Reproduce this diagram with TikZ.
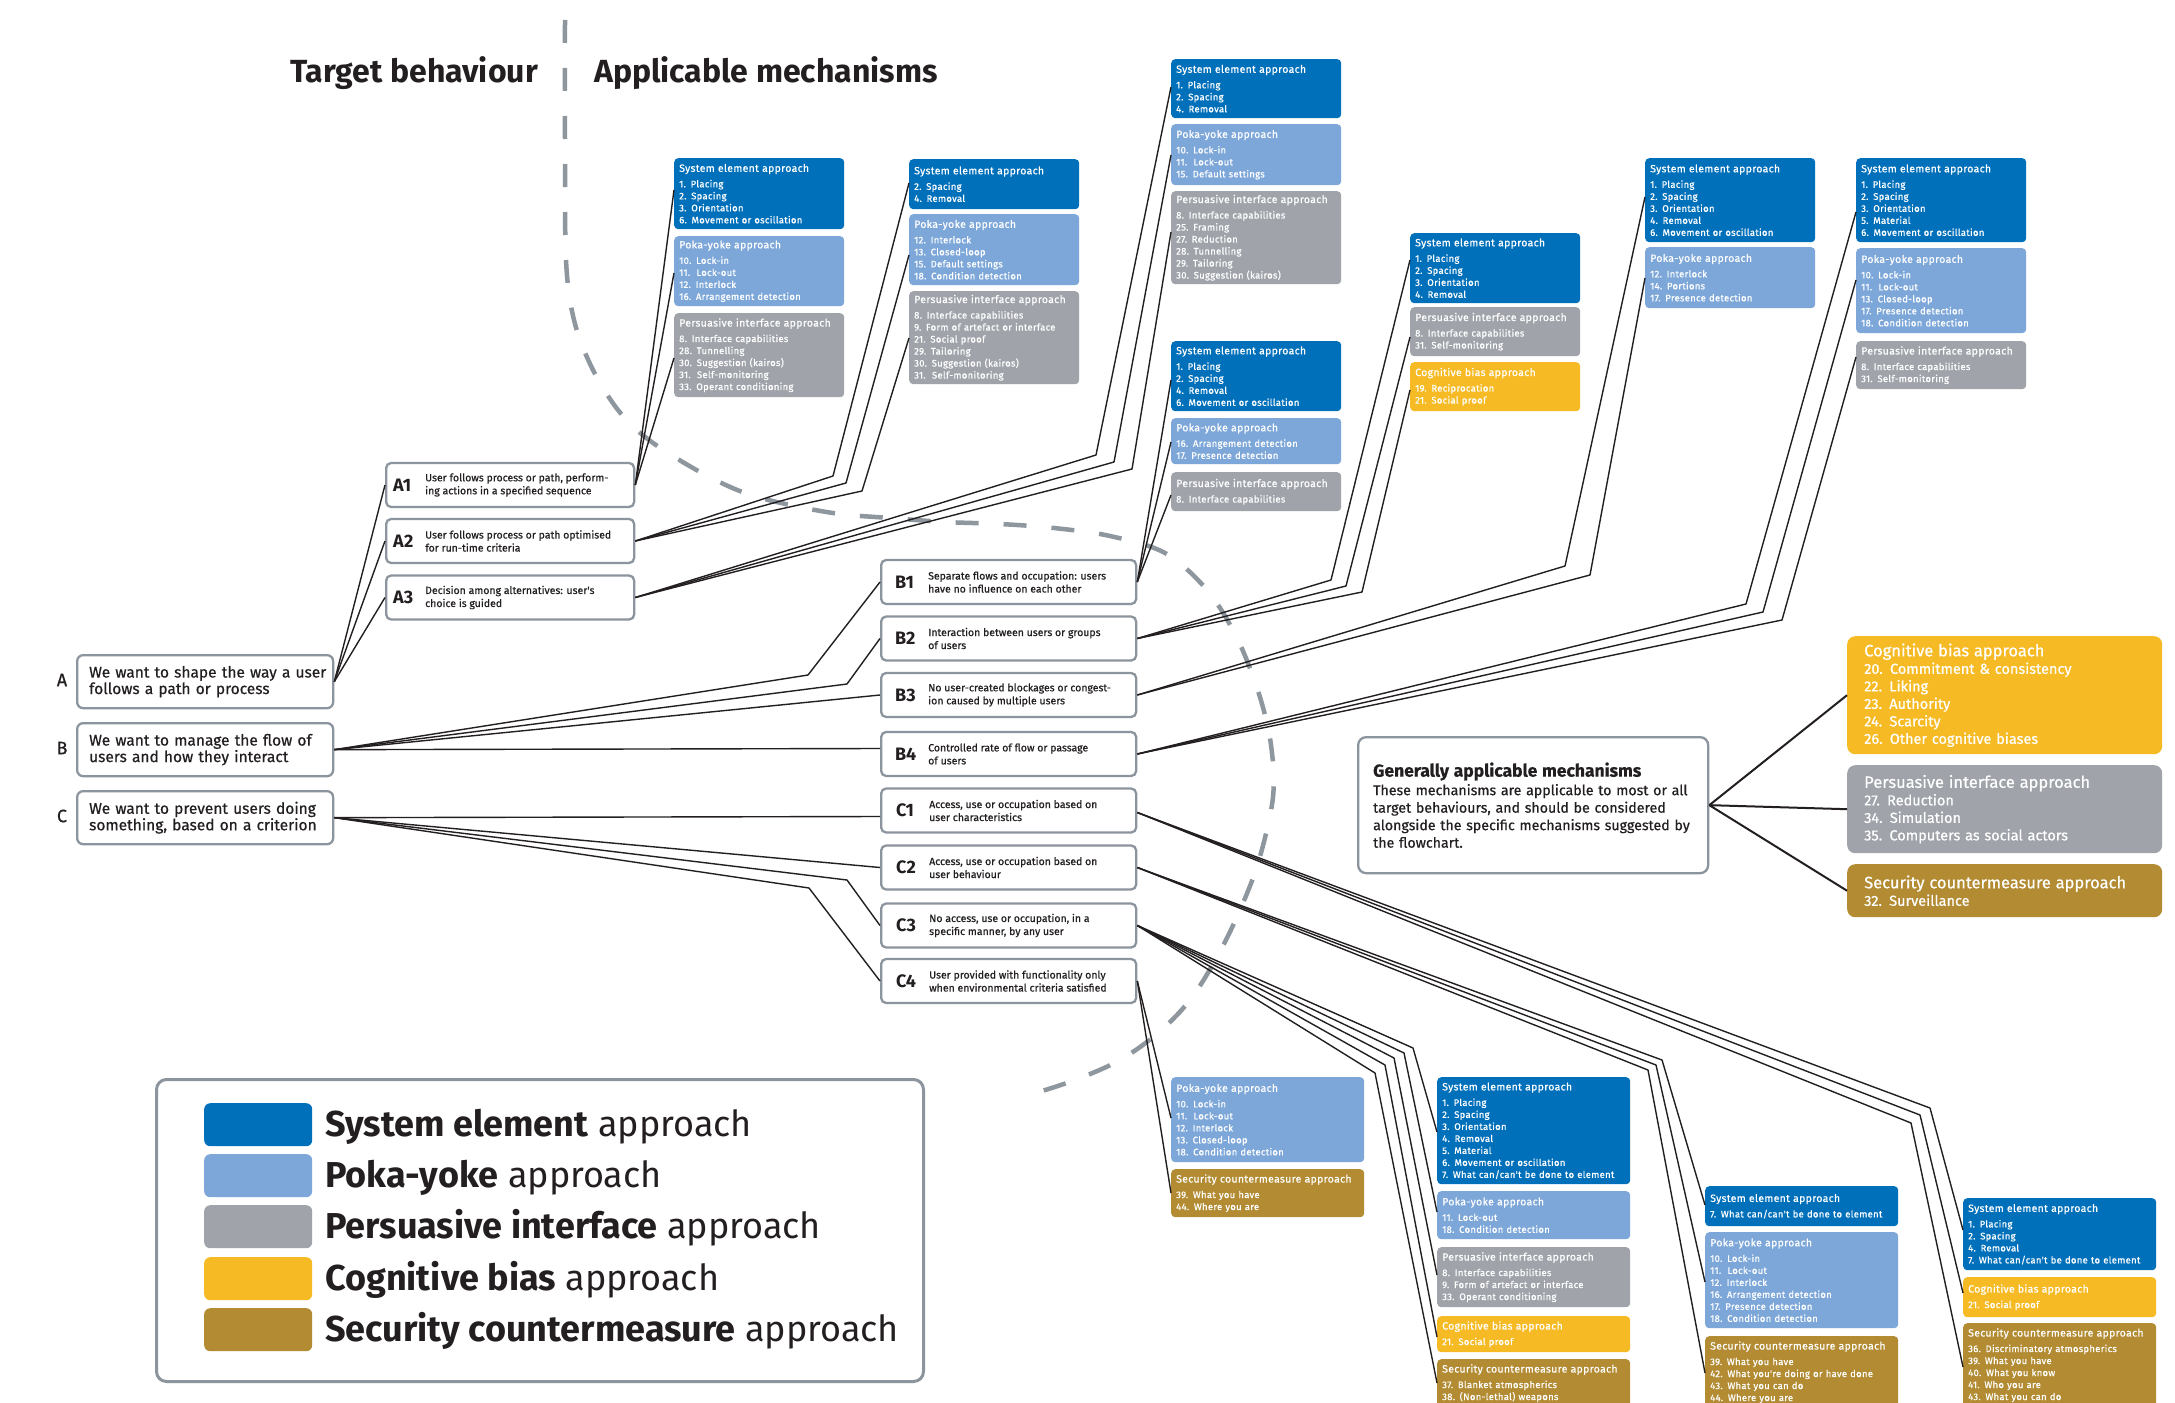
\documentclass[tikz,border=0pt]{standalone}
\usepackage{fontspec}
\setmainfont{Fira Sans}
\newfontfamily\mechfont[LetterSpace=3,FakeBold=0.6]{Fira Sans}
\newfontfamily\medfont[FakeBold=0.6]{Fira Sans}
\definecolor{seblue}{RGB}{0,112,187}
\definecolor{pyblue}{RGB}{125,167,217}
\definecolor{pigrey}{RGB}{160,164,170}
\definecolor{cbyellow}{RGB}{246,187,36}
\definecolor{scgold}{RGB}{178,139,51}
\definecolor{boxgrey}{RGB}{140,149,157}
\definecolor{dashgrey}{RGB}{142,150,158}
\definecolor{ink}{RGB}{35,31,32}
\newcommand{\mhead}[1]{\mbox{\fontsize{10.5}{12}\selectfont #1}\\[3.5pt]}
\newcommand{\rhead}[1]{\mbox{\fontsize{16.5}{17.5}\selectfont #1}\\}
\newcommand{\tbox}[8]{%
  \node[beh, minimum width=#4pt, anchor=west] (#1) at (#2,#3) {};
  \node[blab, anchor=west] (#1l) at ([xshift=#7pt]#1.west) {#5};
  \node[bdesc, anchor=west] (#1d) at ([xshift=#8pt]#1.west) {#6};
}
\tikzset{
  mech/.style={anchor=north west, rounded corners=4pt, text=white, inner xsep=5pt, inner ysep=1pt,
    align=left, text width=160pt, font=\mechfont\fontsize{9.5}{12}\selectfont},
  mwide/.style={text width=183pt},
  mse/.style={mech, fill=seblue},
  mpy/.style={mech, fill=pyblue},
  mpi/.style={mech, fill=pigrey},
  mcb/.style={mech, fill=cbyellow},
  msc/.style={mech, fill=scgold},
  beh/.style={draw=boxgrey, line width=2.3pt, rounded corners=5pt, fill=white, minimum height=44pt, inner sep=0pt},
  blab/.style={font=\fontsize{18}{20}\selectfont\bfseries, text=ink, inner sep=0pt},
  bdesc/.style={font=\medfont\fontsize{10.5}{13}\selectfont, text=ink, align=left, inner sep=0pt},
  bigbeh/.style={anchor=north west, draw=boxgrey, line width=2.3pt, rounded corners=6pt, fill=white,
    minimum width=256pt, minimum height=53pt, text width=232pt, inner xsep=12pt, inner ysep=0pt,
    align=left, text=ink, font=\medfont\fontsize{15.5}{16.5}\selectfont},
  rbox/.style={anchor=north west, rounded corners=8pt, text=white, inner xsep=17pt, inner ysep=1pt,
    align=left, text width=281pt, font=\medfont\fontsize{14.5}{17.5}\selectfont},
  conn/.style={draw=ink, line width=1.4pt, line join=round},
  gconn/.style={draw=ink, line width=2pt},
  dashline/.style={draw=dashgrey, line width=4.5pt, dash pattern=on 23pt off 25pt},
  swatch/.style={anchor=north west, rounded corners=6pt, minimum width=108pt, minimum height=43pt, inner sep=0pt},
  legtext/.style={anchor=base west, inner sep=0pt, text=ink, font=\fontsize{36}{40}\selectfont},
  letter/.style={text=ink, font=\medfont\fontsize{18}{20}\selectfont, inner sep=0pt}
}
\begin{document}
\begin{tikzpicture}[x=1pt, y=-1pt]
\useasboundingbox (0,0) rectangle (2175,1402);
\clip (0,0) rectangle (2175,1402);
\fill[white] (0,0) rectangle (2175,1402);

% dividing dashed line
\draw[dashline] plot[smooth, tension=0.55] coordinates {(565,20) (565,140) (566,260) (574,320) (592,368) (618,410) (649,440) (700,472) (745,493) (790,505) (840,514) (890,518) (945,522) (1000,524) (1054,528) (1110,536) (1165,553) (1207,590) (1237,638) (1259,694) (1271,745) (1273,797) (1259,860) (1240,910) (1217,957) (1190,1000) (1158,1033) (1120,1060) (1075,1080) (1026,1096)};

% titles
\node[anchor=base east, inner sep=0pt, text=ink, font=\fontsize{32}{36}\selectfont\bfseries] (ttarget) at (538,83) {Target behaviour};
\node[anchor=base west, inner sep=0pt, text=ink, font=\fontsize{32}{36}\selectfont\bfseries] (tmech) at (594,83) {Applicable mechanisms};

% top-level behaviours
\node[bigbeh] (A) at (76,654) {\mbox{We want to shape the way a user}\\\mbox{follows a path or process}};
\node[bigbeh] (B) at (76,722) {\mbox{We want to manage the flow of}\\\mbox{users and how they interact}};
\node[bigbeh] (C) at (76,790) {\mbox{We want to prevent users doing}\\\mbox{something, based on a criterion}};
\node[letter] (lA) at (62,680) {A};
\node[letter] (lB) at (62,748) {B};
\node[letter] (lC) at (62,816) {C};

% sub-behaviours
\tbox{a1}{385}{485}{248}{A1}{User follows process or path, perform-\\ing actions in a specified sequence}{8}{40}
\tbox{a2}{385}{541}{248}{A2}{User follows process or path optimised\\for run-time criteria}{8}{40}
\tbox{a3}{385}{597.5}{248}{A3}{Decision among alternatives: user's\\choice is guided}{8}{40}
\tbox{b1}{880}{582}{255}{B1}{Separate flows and occupation: users\\have no influence on each other}{15}{48}
\tbox{b2}{880}{638.5}{255}{B2}{Interaction between users or groups\\of users}{15}{48}
\tbox{b3}{880}{695}{255}{B3}{No user-created blockages or congest-\\ion caused by multiple users}{15}{48}
\tbox{b4}{880}{754}{255}{B4}{Controlled rate of flow or passage\\of users}{15}{48}
\tbox{c1}{880}{810.5}{255}{C1}{Access, use or occupation based on\\user characteristics}{16}{49}
\tbox{c2}{880}{867.5}{255}{C2}{Access, use or occupation based on\\user behaviour}{16}{49}
\tbox{c3}{880}{925.5}{255}{C3}{No access, use or occupation, in a\\specific manner, by any user}{16}{49}
\tbox{c4}{880}{981}{255}{C4}{User provided with functionality only\\when environmental criteria satisfied}{16}{49}

% A1 mechanisms
\node[mse, minimum height=71pt] (a1se) at (674,158) {\mhead{System element approach}1. Placing\\2. Spacing\\3. Orientation\\6. Movement or oscillation};
\node[mpy, minimum height=70pt] (a1py) at (674,236) {\mhead{Poka-yoke approach}10. Lock-in\\11.\ \ Lock-out\\12. Interlock\\16. Arrangement detection};
\node[mpi, minimum height=84pt] (a1pi) at (674,313) {\mhead{Persuasive interface approach}8. Interface capabilities\\28. Tunnelling\\30. Suggestion (kairos)\\31.\ \ Self-monitoring\\33. Operant conditioning};
% A2 mechanisms
\node[mse, minimum height=50pt] (a2se) at (909,159) {\mhead{System element approach}2. Spacing\\4. Removal};
\node[mpy, minimum height=71pt] (a2py) at (909,214) {\mhead{Poka-yoke approach}12. Interlock\\13. Closed-loop\\15. Default settings\\18. Condition detection};
\node[mpi, minimum height=93pt] (a2pi) at (909,291) {\mhead{Persuasive interface approach}8. Interface capabilities\\9. Form of artefact or interface\\21. Social proof\\29. Tailoring\\30. Suggestion (kairos)\\31.\ \ Self-monitoring};
% A3 mechanisms
\node[mse, minimum height=59pt] (a3se) at (1171,59) {\mhead{System element approach}1. Placing\\2. Spacing\\4. Removal};
\node[mpy, minimum height=61pt] (a3py) at (1171,124) {\mhead{Poka-yoke approach}10. Lock-in\\11.\ \ Lock-out\\15. Default settings};
\node[mpi, minimum height=93pt] (a3pi) at (1171,191) {\mhead{Persuasive interface approach}8. Interface capabilities\\25. Framing\\27. Reduction\\28. Tunnelling\\29. Tailoring\\30. Suggestion (kairos)};
% B1 mechanisms
\node[mse, minimum height=70pt] (b1se) at (1171,341) {\mhead{System element approach}1. Placing\\2. Spacing\\4. Removal\\6. Movement or oscillation};
\node[mpy, minimum height=46pt] (b1py) at (1171,418) {\mhead{Poka-yoke approach}16. Arrangement detection\\17. Presence detection};
\node[mpi, minimum height=39pt] (b1pi) at (1171,472) {\mhead{Persuasive interface approach}8. Interface capabilities};
% B2 mechanisms
\node[mse, minimum height=70pt] (b2se) at (1410,233) {\mhead{System element approach}1. Placing\\2. Spacing\\3. Orientation\\4. Removal};
\node[mpi, minimum height=49pt] (b2pi) at (1410,307) {\mhead{Persuasive interface approach}8. Interface capabilities\\31. Self-monitoring};
\node[mcb, minimum height=49pt] (b2cb) at (1410,362) {\mhead{Cognitive bias approach}19. Reciprocation\\21. Social proof};
% B3 mechanisms
\node[mse, minimum height=84pt] (b3se) at (1645,158) {\mhead{System element approach}1. Placing\\2. Spacing\\3. Orientation\\4. Removal\\6. Movement or oscillation};
\node[mpy, minimum height=61pt] (b3py) at (1645,247) {\mhead{Poka-yoke approach}12. Interlock\\14. Portions\\17. Presence detection};
% B4 mechanisms
\node[mse, minimum height=84pt] (b4se) at (1856,158) {\mhead{System element approach}1. Placing\\2. Spacing\\3. Orientation\\5. Material\\6. Movement or oscillation};
\node[mpy, minimum height=85pt] (b4py) at (1856,248) {\mhead{Poka-yoke approach}10. Lock-in\\11.\ \ Lock-out\\13. Closed-loop\\17. Presence detection\\18. Condition detection};
\node[mpi, minimum height=48pt] (b4pi) at (1856,341) {\mhead{Persuasive interface approach}8. Interface capabilities\\31. Self-monitoring};
% C4 mechanisms
\node[mpy, mwide, minimum height=85pt] (c4py) at (1171,1077) {\mhead{Poka-yoke approach}10. Lock-in\\11.\ \ Lock-out\\12. Interlock\\13. Closed-loop\\18. Condition detection};
\node[msc, mwide, minimum height=48pt] (c4sc) at (1171,1169) {\mhead{Security countermeasure approach}39. What you have\\44. Where you are};
% C3 mechanisms
\node[mse, mwide, minimum height=107pt] (c3se) at (1437,1077) {\mhead{System element approach}1. Placing\\2. Spacing\\3. Orientation\\4. Removal\\5. Material\\6. Movement or oscillation\\7. What can/can't be done to element};
\node[mpy, mwide, minimum height=48pt] (c3py) at (1437,1191) {\mhead{Poka-yoke approach}11. Lock-out\\18. Condition detection};
\node[mpi, mwide, minimum height=60pt] (c3pi) at (1437,1247) {\mhead{Persuasive interface approach}8. Interface capabilities\\9. Form of artefact or interface\\33. Operant conditioning};
\node[mcb, mwide, minimum height=36pt] (c3cb) at (1437,1316) {\mhead{Cognitive bias approach}21. Social proof};
\node[msc, mwide, minimum height=48pt] (c3sc) at (1437,1359) {\mhead{Security countermeasure approach}37. Blanket atmospherics\\38. (Non-lethal) weapons};
% C2 mechanisms
\node[mse, mwide, minimum height=40pt] (c2se) at (1705,1186) {\mhead{System element approach}7. What can/can't be done to element};
\node[mpy, mwide, minimum height=96pt] (c2py) at (1705,1232) {\mhead{Poka-yoke approach}10. Lock-in\\11.\ \ Lock-out\\12. Interlock\\16. Arrangement detection\\17. Presence detection\\18. Condition detection};
\node[msc, mwide, minimum height=72pt] (c2sc) at (1705,1336) {\mhead{Security countermeasure approach}39. What you have\\42. What you're doing or have done\\43. What you can do\\44. Where you are};
% C1 mechanisms
\node[mse, mwide, minimum height=72pt] (c1se) at (1963,1198) {\mhead{System element approach}1. Placing\\2. Spacing\\4. Removal\\7. What can/can't be done to element};
\node[mcb, mwide, minimum height=40pt] (c1cb) at (1963,1277) {\mhead{Cognitive bias approach}21. Social proof};
\node[msc, mwide, minimum height=84pt] (c1sc) at (1963,1323) {\mhead{Security countermeasure approach}36. Discriminatory atmospherics\\39. What you have\\40. What you know\\41. Who you are\\43. What you can do};

% generally applicable
\node[anchor=north west, draw=boxgrey, line width=2.3pt, rounded corners=8pt, fill=white,
  minimum height=136pt, text width=320pt, inner xsep=15pt, inner ysep=0pt, align=left, text=ink,
  font=\medfont\fontsize{14.2}{17.5}\selectfont] (gen) at (1357,736)
  {\mbox{\fontsize{17.5}{20}\selectfont\bfseries Generally applicable mechanisms}\\[1pt]
   \mbox{These mechanisms are applicable to most or all}\\
   \mbox{target behaviours, and should be considered}\\
   \mbox{alongside the specific mechanisms suggested by}\\
   \mbox{the flowchart.}};
\node[rbox, fill=cbyellow, minimum height=118pt] (rcb) at (1847,636) {\rhead{Cognitive bias approach}20. Commitment \& consistency\\22. Liking\\23. Authority\\24. Scarcity\\26. Other cognitive biases};
\node[rbox, fill=pigrey, minimum height=88pt] (rpi) at (1847,765) {\rhead{Persuasive interface approach}27. Reduction\\34. Simulation\\35. Computers as social actors};
\node[rbox, fill=scgold, minimum height=53pt] (rsc) at (1847,864) {\rhead{Security countermeasure approach}32. Surveillance};

% bend points
\coordinate (kb1) at (808,675);
\coordinate (kb2) at (847,684);
\coordinate (kc3) at (847,880);
\coordinate (kc4) at (809,888);
\coordinate (ka21) at (833,476);
\coordinate (ka22) at (846,483);
\coordinate (ka23) at (862,491);
\coordinate (ka31) at (1096,455);
\coordinate (ka32) at (1114,462);
\coordinate (ka33) at (1132,469);
\coordinate (kb21) at (1331,580);
\coordinate (kb22) at (1346,586);
\coordinate (kb23) at (1362,592);
\coordinate (kb31) at (1565,566);
\coordinate (kb32) at (1590,575);
\coordinate (kb41) at (1746,604);
\coordinate (kb42) at (1763,612);
\coordinate (kb43) at (1782,620);
\coordinate (kc11) at (1930,1108);
\coordinate (kc12) at (1920,1115);
\coordinate (kc13) at (1911,1123);
\coordinate (kc21) at (1662,1060);
\coordinate (kc22) at (1656,1065);
\coordinate (kc23) at (1648,1070);
\coordinate (kc31) at (1413,1048);
\coordinate (kc32) at (1404,1053);
\coordinate (kc33) at (1394,1058);
\coordinate (kc34) at (1385,1065);
\coordinate (kc35) at (1375,1073);

% connectors: top level
\draw[conn] (A.east) -- (a1.west);
\draw[conn] (A.east) -- (a2.west);
\draw[conn] (A.east) -- (a3.west);
\draw[conn] (B.east) -- (kb1) -- (b1.west);
\draw[conn] (B.east) -- (kb2) -- (b2.west);
\draw[conn] (B.east) -- (b3.west);
\draw[conn] (B.east) -- ([yshift=5.5pt]b4.west);
\draw[conn] (C.east) -- ([yshift=-6pt]c1.west);
\draw[conn] (C.east) -- (c2.west);
\draw[conn] (C.east) -- (kc3) -- (c3.west);
\draw[conn] (C.east) -- (kc4) -- (c4.west);
% A fans
\draw[conn] (a1.east) -- ([yshift=-32pt]a1se.north west);
\draw[conn] (a1.east) -- ([yshift=-37pt]a1py.north west);
\draw[conn] (a1.east) -- ([yshift=-45pt]a1pi.north west);
\draw[conn] (a2.east) -- (ka21) -- ([yshift=-24pt]a2se.north west);
\draw[conn] (a2.east) -- (ka22) -- ([yshift=-41pt]a2py.north west);
\draw[conn] (a2.east) -- (ka23) -- ([yshift=-47pt]a2pi.north west);
\draw[conn] (a3.east) -- (ka31) -- ([yshift=-28pt]a3se.north west);
\draw[conn] (a3.east) -- (ka32) -- ([yshift=-31pt]a3py.north west);
\draw[conn] (a3.east) -- (ka33) -- ([yshift=-41pt]a3pi.north west);
% B fans
\draw[conn] (b1.east) -- ([yshift=-39pt]b1se.north west);
\draw[conn] (b1.east) -- ([yshift=-24pt]b1py.north west);
\draw[conn] (b1.east) -- ([yshift=-23pt]b1pi.north west);
\draw[conn] (b2.east) -- (kb21) -- ([yshift=-27pt]b2se.north west);
\draw[conn] (b2.east) -- (kb22) -- ([yshift=-30pt]b2pi.north west);
\draw[conn] (b2.east) -- (kb23) -- ([yshift=-28pt]b2cb.north west);
\draw[conn] (b3.east) -- (kb31) -- ([yshift=-39pt]b3se.north west);
\draw[conn] (b3.east) -- (kb32) -- ([yshift=-31pt]b3py.north west);
\draw[conn] (b4.east) -- (kb41) -- ([yshift=-54pt]b4se.north west);
\draw[conn] (b4.east) -- (kb42) -- ([yshift=-32pt]b4py.north west);
\draw[conn] (b4.east) -- (kb43) -- ([yshift=-16pt]b4pi.north west);
% C fans
\draw[conn] ([yshift=-2pt]c1.east) -- (kc11) -- ([yshift=-32pt]c1se.north west);
\draw[conn] ([yshift=-2pt]c1.east) -- (kc12) -- ([yshift=-16pt]c1cb.north west);
\draw[conn] ([yshift=-2pt]c1.east) -- (kc13) -- ([yshift=-44pt]c1sc.north west);
\draw[conn] (c2.east) -- (kc21) -- ([yshift=-19pt]c2se.north west);
\draw[conn] (c2.east) -- (kc22) -- ([yshift=-50pt]c2py.north west);
\draw[conn] (c2.east) -- (kc23) -- ([yshift=-37pt]c2sc.north west);
\draw[conn] (c3.east) -- (kc31) -- ([yshift=-55pt]c3se.north west);
\draw[conn] (c3.east) -- (kc32) -- ([yshift=-21pt]c3py.north west);
\draw[conn] (c3.east) -- (kc33) -- ([yshift=-28pt]c3pi.north west);
\draw[conn] (c3.east) -- (kc34) -- ([yshift=-21pt]c3cb.north west);
\draw[conn] (c3.east) -- (kc35) -- ([yshift=-24pt]c3sc.north west);
\draw[conn] (c4.east) -- ([yshift=-41pt]c4py.north west);
\draw[conn] (c4.east) -- ([yshift=-24pt]c4sc.north west);
% general
\draw[gconn] (gen.east) -- (rcb.west);
\draw[gconn] (gen.east) -- (rpi.west);
\draw[gconn] (gen.east) -- (rsc.west);

% legend
\node[anchor=north west, draw=boxgrey, line width=3pt, rounded corners=10pt, minimum width=767pt, minimum height=302pt, inner sep=0pt] (legend) at (155,1078) {};
\node[swatch, fill=seblue] (lgse) at (204,1103) {};
\node[swatch, fill=pyblue] (lgpy) at (204,1154) {};
\node[swatch, fill=pigrey] (lgpi) at (204,1205) {};
\node[swatch, fill=cbyellow] (lgcb) at (204,1257) {};
\node[swatch, fill=scgold] (lgsc) at (204,1308) {};
\node[legtext] (lgtse) at (325,1136.5) {\textbf{System element} approach};
\node[legtext] (lgtpy) at (325,1187.5) {\textbf{Poka-yoke} approach};
\node[legtext] (lgtpi) at (325,1238.5) {\textbf{Persuasive interface} approach};
\node[legtext] (lgtcb) at (325,1290.5) {\textbf{Cognitive bias} approach};
\node[legtext] (lgtsc) at (325,1341.5) {\textbf{Security countermeasure} approach};
\end{tikzpicture}
\end{document}
